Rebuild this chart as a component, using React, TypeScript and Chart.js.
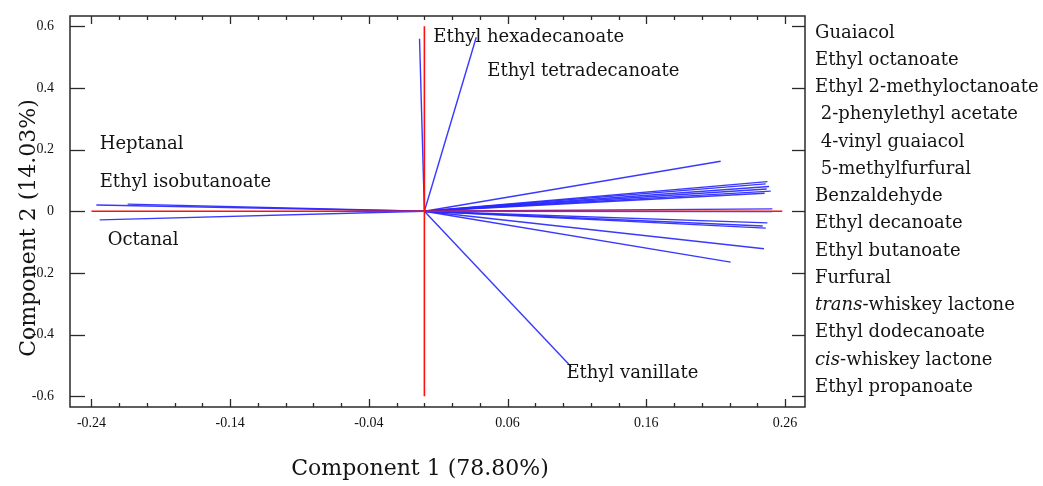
import React, { useEffect, useRef } from "react";
import { Chart, registerables } from "chart.js";

Chart.register(...registerables);

// ---- Data ----
const vectorNames = [
  "Guaiacol",
  "Ethyl octanoate",
  "Ethyl 2-methyloctanoate",
  "2-phenylethyl acetate",
  "4-vinyl guaiacol",
  "5-methylfurfural",
  "Benzaldehyde",
  "Ethyl decanoate",
  "Ethyl butanoate",
  "Furfural",
  "trans-whiskey lactone",
  "Ethyl dodecanoate",
  "cis-whiskey lactone",
  "Ethyl propanoate",
  "Heptanal",
  "Ethyl isobutanoate",
  "Octanal",
  "Ethyl hexadecanoate",
  "Ethyl tetradecanoate",
  "Ethyl vanillate",
];
const loadingPC1 = [
  0.2136, 0.2473, 0.2461, 0.2485, 0.2468, 0.2497, 0.2453, 0.2509, 0.2509, 0.2473,
  0.2439, 0.2461, 0.2448, 0.2208, -0.2365, -0.2139, -0.2341, -0.0035, 0.0374, 0.106,
];
const loadingPC2 = [
  0.162, 0.096, 0.0886, 0.08, 0.072, 0.065, 0.058, 0.0075, -0.0013, -0.038,
  -0.048, -0.055, -0.122, -0.165, 0.02, 0.023, -0.028, 0.559, 0.564, -0.505,
];

// reference axes (red)
const refHorizontalX = [-0.24, 0.258];
const refVerticalY = [-0.6, 0.6];

// labels inside the plot (data coordinates of their left/middle)
const annotationText = [
  "Ethyl hexadecanoate",
  "Ethyl tetradecanoate",
  "Heptanal",
  "Ethyl isobutanoate",
  "Octanal",
  "Ethyl vanillate",
];
const annotationX = [0.0064, 0.0454, -0.2341, -0.2341, -0.2283, 0.1024];
const annotationY = [0.565, 0.452, 0.218, 0.095, -0.096, -0.526];

// list at the right (underscores mark italic prefix)
const rightLabels = [
  "Guaiacol",
  "Ethyl octanoate",
  "Ethyl 2-methyloctanoate",
  " 2-phenylethyl acetate",
  " 4-vinyl guaiacol",
  " 5-methylfurfural",
  "Benzaldehyde",
  "Ethyl decanoate",
  "Ethyl butanoate",
  "Furfural",
  "_trans_-whiskey lactone",
  "Ethyl dodecanoate",
  "_cis_-whiskey lactone",
  "Ethyl propanoate",
];

const xTicks = [-0.24, -0.14, -0.04, 0.06, 0.16, 0.26];
const xTickLabels = ["-0.24", "-0.14", "-0.04", "0.06", "0.16", "0.26"];
const xMinorStep = 0.02;
const yTicks = [-0.6, -0.4, -0.2, 0, 0.2, 0.4, 0.6];
const yTickLabels = ["-0.6", "-0.4", "-0.2", "0", "0.2", "0.4", "0.6"];
const xTitle = "Component 1 (78.80%)";
const yTitle = "Component 2 (14.03%)";

const X_MIN = -0.2555;
const X_MAX = 0.2744;
const Y_MIN = -0.635;
const Y_MAX = 0.633;

const SERIF = '"DejaVu Serif", "Liberation Serif", serif';

const decorPlugin = {
  id: "decor",
  afterDatasetsDraw(chart: any) {
    const { ctx, chartArea: a, scales } = chart;
    const xs = scales.x;
    const ys = scales.y;
    ctx.save();

    // annotations inside plot
    ctx.fillStyle = "#141414";
    ctx.font = `18px ${SERIF}`;
    ctx.textAlign = "left";
    ctx.textBaseline = "middle";
    annotationText.forEach((t, i) => {
      ctx.fillText(t, xs.getPixelForValue(annotationX[i]), ys.getPixelForValue(annotationY[i]));
    });

    // frame
    ctx.strokeStyle = "#2a2a2a";
    ctx.lineWidth = 1.5;
    ctx.strokeRect(a.left, a.top, a.right - a.left, a.bottom - a.top);

    const seg = (x1: number, y1: number, x2: number, y2: number) => {
      ctx.beginPath();
      ctx.moveTo(x1, y1);
      ctx.lineTo(x2, y2);
      ctx.stroke();
    };
    ctx.lineWidth = 1.3;
    // y ticks on both sides (inward)
    yTicks.forEach((v) => {
      const py = Math.round(ys.getPixelForValue(v)) + 0.5;
      seg(a.left, py, a.left + 15, py);
      seg(a.right - 13, py, a.right, py);
    });
    // x ticks top and bottom (inward), major + minor
    const n = Math.round((xTicks[xTicks.length - 1] - xTicks[0]) / xMinorStep);
    for (let k = 0; k <= n; k++) {
      const v = xTicks[0] + k * xMinorStep;
      const major = xTicks.some((t) => Math.abs(t - v) < 1e-6);
      const len = major ? 8 : 4;
      const px = Math.round(xs.getPixelForValue(v)) + 0.5;
      seg(px, a.bottom, px, a.bottom - len);
      seg(px, a.top, px, a.top + len);
    }

    // right-hand list
    ctx.fillStyle = "#141414";
    ctx.textBaseline = "middle";
    rightLabels.forEach((lab, i) => {
      let x = a.right + 10;
      const y = a.top + 17 + i * 27.25;
      const m = lab.match(/^_(.*?)_(.*)$/);
      if (m) {
        ctx.font = `italic 18px ${SERIF}`;
        ctx.fillText(m[1], x, y);
        x += ctx.measureText(m[1]).width;
        ctx.font = `18px ${SERIF}`;
        ctx.fillText(m[2], x, y);
      } else {
        ctx.font = `18px ${SERIF}`;
        ctx.fillText(lab, x, y);
      }
    });

    // axis titles
    ctx.font = `22px ${SERIF}`;
    ctx.textAlign = "center";
    ctx.textBaseline = "middle";
    ctx.fillText(xTitle, 420, 469);
    ctx.translate(29, 228);
    ctx.rotate(-Math.PI / 2);
    ctx.fillText(yTitle, 0, 0);

    ctx.restore();
  },
};

export default function App() {
  const ref = useRef<HTMLCanvasElement | null>(null);

  useEffect(() => {
    if (!ref.current) return;
    const vectorSets = vectorNames.map((name, i) => ({
      label: name,
      data: [
        { x: 0, y: 0 },
        { x: loadingPC1[i], y: loadingPC2[i] },
      ],
      borderColor: "rgba(40,40,255,0.92)",
      borderWidth: 1.4,
      pointRadius: 0,
      showLine: true,
      fill: false,
    }));
    const chart = new Chart(ref.current, {
      type: "scatter",
      data: {
        datasets: [
          {
            label: "axis-h",
            data: refHorizontalX.map((v) => ({ x: v, y: 0 })),
            borderColor: "#ff1010",
            borderWidth: 1.6,
            pointRadius: 0,
            showLine: true,
          },
          {
            label: "axis-v",
            data: refVerticalY.map((v) => ({ x: 0, y: v })),
            borderColor: "#ff1010",
            borderWidth: 1.6,
            pointRadius: 0,
            showLine: true,
          },
          ...vectorSets,
        ],
      },
      options: {
        animation: false,
        responsive: false,
        devicePixelRatio: 1,
        layout: { padding: { top: 16, right: 238, left: 0, bottom: 0 } },
        plugins: {
          legend: { display: false },
          tooltip: { enabled: false },
        },
        scales: {
          x: {
            type: "linear",
            min: X_MIN,
            max: X_MAX,
            afterBuildTicks: (s: any) => {
              s.ticks = xTicks.map((v) => ({ value: v }));
            },
            afterFit: (s: any) => {
              s.height = 79;
              s.paddingLeft = 0;
              s.paddingRight = 0;
            },
            ticks: {
              callback: (v: any) => {
                const i = xTicks.findIndex((t) => Math.abs(t - v) < 1e-6);
                return i >= 0 ? xTickLabels[i] : "";
              },
              font: { family: '"Liberation Serif", serif', size: 14 },
              color: "#111",
              padding: 8,
              maxRotation: 0,
              autoSkip: false,
            },
            grid: { display: false, drawTicks: false },
            border: { display: false },
          },
          y: {
            type: "linear",
            min: Y_MIN,
            max: Y_MAX,
            afterBuildTicks: (s: any) => {
              s.ticks = yTicks.map((v) => ({ value: v }));
            },
            afterFit: (s: any) => {
              s.width = 70;
              s.paddingTop = 0;
              s.paddingBottom = 0;
            },
            ticks: {
              callback: (v: any) => {
                const i = yTicks.findIndex((t) => Math.abs(t - v) < 1e-6);
                return i >= 0 ? yTickLabels[i] : "";
              },
              font: { family: '"Liberation Serif", serif', size: 14 },
              color: "#111",
              padding: 16,
              autoSkip: false,
            },
            grid: { display: false, drawTicks: false },
            border: { display: false },
          },
        },
      },
      plugins: [decorPlugin],
    });
    return () => chart.destroy();
  }, []);

  return (
    <div style={{ position: "fixed", left: 0, top: 0, width: 1043, height: 486, background: "#fff" }}>
      <canvas ref={ref} width={1043} height={486} style={{ width: 1043, height: 486 }} />
    </div>
  );
}
